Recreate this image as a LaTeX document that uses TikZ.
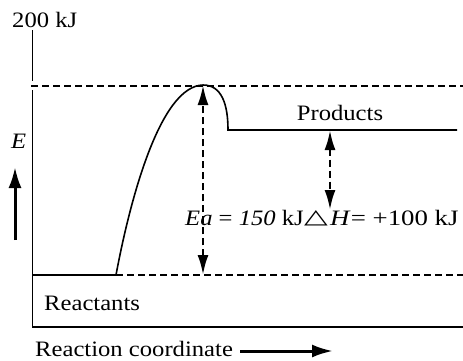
\documentclass[tikz,border=0pt]{standalone}
\usepackage{fontspec}
\setmainfont{Liberation Serif}
\newfontfamily\symf{DejaVu Sans}
\usetikzlibrary{arrows.meta}
\newcommand{\wide}[1]{\scalebox{1.12}[1]{#1}}
\tikzset{
  lbl/.style={inner sep=0pt, font=\fontsize{22}{26}\selectfont},
  axisline/.style={line width=1.7pt},
  curveline/.style={line width=1.6pt},
  guide/.style={line width=1.3pt, dash pattern=on 7pt off 4pt},
  energyarrow/.style={line width=2.6pt, dash pattern=on 7pt off 4pt,
    {Latex[length=20pt,width=11pt]}-{Latex[length=20pt,width=11pt]}},
  solidarrow/.style={line width=3pt, -{Latex[length=21pt,width=13pt]}},
}
\begin{document}
\begin{tikzpicture}[x=1pt,y=-1pt]
\useasboundingbox (0,0) rectangle (463,360);
% key points
\coordinate (axtop) at (32.5,30);
\coordinate (axgapA) at (32.5,81);
\coordinate (axgapB) at (32.5,90);
\coordinate (origin) at (32.5,327);
\coordinate (axright) at (463,327);
\coordinate (tsleft) at (31,86);
\coordinate (tsright) at (463,86);
\coordinate (rstart) at (32.5,275);
\coordinate (rend) at (116,275);
\coordinate (rright) at (463,275);
\coordinate (peak) at (203,85);
\coordinate (pstart) at (228,130);
\coordinate (pend) at (457,130);
\coordinate (eabase) at (203,275);
\coordinate (dhtop) at (330,130);
\coordinate (dhbot) at (330,210);
\coordinate (eup1) at (15,240);
\coordinate (eup2) at (15,167);
\coordinate (xarr1) at (240,351);
\coordinate (xarr2) at (333,351);
% axes
\draw[axisline] (axtop) -- (axgapA);
\draw[axisline] (axgapB) -- (origin) -- (axright);
% guide lines
\draw[guide] (tsleft) -- (tsright);
\draw[guide] (rend) -- (rright);
% energy profile
\draw[curveline] (rstart) -- (rend)
  .. controls (130,200) and (160,86) .. (peak)
  .. controls (222,85) and (228,105) .. (pstart) -- (pend);
% arrows
\draw[energyarrow] (eabase) -- (peak);
\draw[energyarrow] (dhtop) -- (dhbot);
\draw[solidarrow] (eup1) -- (eup2);
\draw[solidarrow] (xarr1) -- (xarr2);
% labels
\node[lbl, anchor=base west] (toplbl) at (12,27) {\wide{200 kJ}};
\node[lbl, anchor=base west] (elbl) at (11,148) {\wide{\textit{E}}};
\node[lbl, anchor=base] (prod) at (340,120) {\wide{Products}};
\node[lbl, anchor=base west] (react) at (44,310) {\wide{Reactants}};
\node[lbl, anchor=base west] (xlbl) at (35,356) {\wide{Reaction coordinate}};
\node[lbl, anchor=base west] (ealbl) at (185,225) {\wide{\textit{Ea} = \textit{150} kJ}};
\node[inner sep=0pt, anchor=base west, font=\fontsize{28}{30}\selectfont] (tri) at (304,223) {\scalebox{1.1}[0.72]{\symf △}};
\node[lbl, anchor=base west] (dhlbl) at (330,225) {\scalebox{1.22}[1]{\textit{H}= +100 kJ}};
\end{tikzpicture}
\end{document}
